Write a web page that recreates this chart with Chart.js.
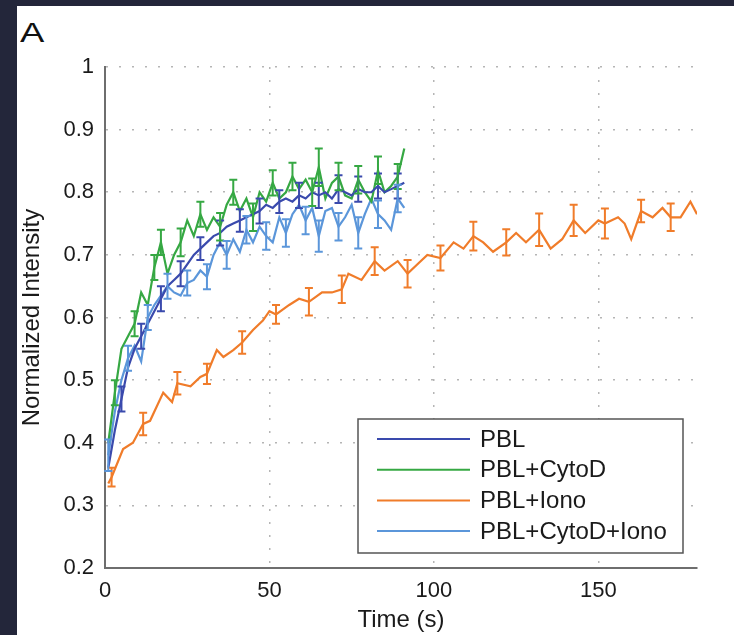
<!DOCTYPE html>
<html>
<head>
<meta charset="utf-8">
<script src="https://cdn.jsdelivr.net/npm/chart.js@4/dist/chart.umd.min.js"></script>
<style>
  html, body { margin: 0; padding: 0; }
  body { width: 734px; height: 635px; background: #23263a; position: relative; overflow: hidden; }
  .panel { position: absolute; left: 17px; top: 6px; width: 717px; height: 629px; background: #fff; }
  .panel-label { position: absolute; left: 3px; top: 13px; font: 28px/28px "Liberation Sans", Arial, sans-serif; color: #111; transform: scaleX(1.3); transform-origin: left top; }
  canvas { position: absolute; left: 0; top: 0; }
</style>
</head>
<body>
<div class="panel">
  <div class="panel-label">A</div>
  <canvas id="chart" width="717" height="629"></canvas>
</div>
<script>
// time axis (s) shared by the three fast series
var fastTime = [1, 3, 5, 7, 9, 11, 13, 15, 17, 19, 21, 23, 25, 27, 29, 31, 33, 35, 37, 39, 41, 43, 45,
  47, 49, 51, 53, 55, 57, 59, 61, 63, 65, 67, 69, 71, 73, 75, 77, 79, 81, 83, 85, 87, 89, 91];

var pblValues = [0.36, 0.42, 0.47, 0.52, 0.55, 0.57, 0.59, 0.61, 0.63, 0.65, 0.66, 0.67, 0.685, 0.70,
  0.71, 0.72, 0.73, 0.735, 0.745, 0.75, 0.755, 0.76, 0.765, 0.77, 0.78, 0.775, 0.785, 0.79, 0.785,
  0.795, 0.79, 0.80, 0.795, 0.80, 0.79, 0.805, 0.80, 0.795, 0.805, 0.80, 0.80, 0.81, 0.80, 0.805,
  0.81, 0.815];
var pblErr = [null, null, 0.02, null, null, 0.02, null, null, 0.02, null, null, 0.02, null, null,
  0.018, null, null, 0.02, null, null, 0.018, null, null, 0.02, null, null, 0.018, null, null, 0.02,
  null, null, 0.02, null, null, 0.022, null, null, 0.02, null, null, 0.02, null, null, 0.02, null];

var cytoDValues = [0.40, 0.48, 0.55, 0.57, 0.59, 0.64, 0.62, 0.68, 0.72, 0.67, 0.70, 0.72, 0.755,
  0.73, 0.765, 0.74, 0.76, 0.745, 0.78, 0.80, 0.77, 0.79, 0.76, 0.80, 0.785, 0.815, 0.79, 0.80,
  0.825, 0.805, 0.82, 0.80, 0.84, 0.79, 0.815, 0.825, 0.795, 0.79, 0.82, 0.80, 0.785, 0.835, 0.80,
  0.81, 0.825, 0.87];
var cytoDErr = [null, 0.02, null, null, 0.02, null, null, 0.02, 0.02, null, null, 0.022, null, null,
  0.02, null, null, 0.022, null, 0.02, null, null, 0.022, null, null, 0.02, null, null, 0.022, null,
  null, 0.022, 0.03, null, null, 0.022, null, null, 0.022, null, null, 0.022, null, null, 0.02, null];

var ionoTime = [1, 2, 5.5, 8.5, 11.6, 13.7, 17.7, 20.4, 22, 26, 29, 31, 34, 36, 39, 41.7, 45, 48, 50,
  52, 56, 59, 62, 66, 69, 72, 74, 78, 82, 85, 89, 92, 95, 98, 102, 106, 109, 112, 115, 118, 122,
  125, 128, 132, 135.5, 139, 142.5, 146, 150, 152, 156, 158, 160, 163, 166.5, 169.5, 172, 175,
  178, 180];
var ionoValues = [0.335, 0.345, 0.39, 0.40, 0.43, 0.435, 0.48, 0.465, 0.495, 0.49, 0.505, 0.51,
  0.548, 0.537, 0.548, 0.56, 0.58, 0.595, 0.61, 0.605, 0.62, 0.63, 0.625, 0.64, 0.64, 0.645, 0.67,
  0.66, 0.69, 0.675, 0.69, 0.67, 0.685, 0.70, 0.695, 0.72, 0.71, 0.73, 0.72, 0.705, 0.72, 0.735,
  0.72, 0.74, 0.71, 0.725, 0.755, 0.735, 0.755, 0.75, 0.76, 0.75, 0.725, 0.77, 0.76, 0.775, 0.76,
  0.76, 0.785, 0.765];
var ionoErr = [null, 0.015, null, null, 0.018, null, null, null, 0.018, null, null, 0.016, null,
  null, null, 0.018, null, null, null, 0.015, null, null, 0.022, null, null, 0.022, null, null,
  0.022, null, null, 0.022, null, null, 0.02, null, null, 0.023, null, null, 0.021, null, null,
  0.026, null, null, 0.025, null, null, 0.024, null, null, null, 0.018, null, null, 0.022, null,
  null, null];

var cytoDIonoValues = [0.38, 0.45, 0.50, 0.535, 0.555, 0.53, 0.60, 0.62, 0.635, 0.65, 0.64, 0.635,
  0.655, 0.66, 0.675, 0.665, 0.70, 0.72, 0.70, 0.725, 0.705, 0.74, 0.72, 0.745, 0.73, 0.72, 0.76,
  0.735, 0.765, 0.78, 0.755, 0.775, 0.73, 0.77, 0.775, 0.745, 0.76, 0.78, 0.735, 0.765, 0.79,
  0.765, 0.755, 0.74, 0.79, 0.775];
var cytoDIonoErr = [0.025, null, null, 0.02, null, null, 0.02, null, null, 0.02, null, null, 0.02,
  null, null, 0.02, null, null, 0.022, null, null, 0.022, null, null, 0.022, null, null, 0.022,
  null, null, 0.022, null, 0.025, null, null, 0.022, null, null, 0.025, null, null, 0.022, null,
  null, 0.022, null];

var seriesLabels = ["PBL", "PBL+CytoD", "PBL+Iono", "PBL+CytoD+Iono"];
var seriesColors = ["#3a4aad", "#36a843", "#f07c2a", "#5b96da"];
var xTicks = [0, 50, 100, 150];
var yTicks = [0.2, 0.3, 0.4, 0.5, 0.6, 0.7, 0.8, 0.9, 1];

function points(times, values, errs) {
  return times.map(function (t, i) { return { x: t, y: values[i], err: errs[i] }; });
}

var FONT = "'Liberation Sans', Arial, Helvetica, sans-serif";

var errorBars = {
  id: "errorBars",
  afterDatasetsDraw: function (chart) {
    var ctx = chart.ctx;
    var xs = chart.scales.x, ys = chart.scales.y;
    ctx.save();
    chart.data.datasets.forEach(function (ds) {
      ctx.strokeStyle = ds.borderColor;
      ctx.lineWidth = 2;
      ds.data.forEach(function (p) {
        if (p.err == null) return;
        var px = xs.getPixelForValue(p.x);
        var top = ys.getPixelForValue(p.y + p.err);
        var bot = ys.getPixelForValue(p.y - p.err);
        ctx.beginPath();
        ctx.moveTo(px, top); ctx.lineTo(px, bot);
        ctx.moveTo(px - 4, top); ctx.lineTo(px + 4, top);
        ctx.moveTo(px - 4, bot); ctx.lineTo(px + 4, bot);
        ctx.stroke();
      });
    });
    ctx.restore();
  }
};

// matlab-style boxed legend in the lower right of the axes
var boxLegend = {
  id: "boxLegend",
  afterDraw: function (chart) {
    var ctx = chart.ctx, ca = chart.chartArea;
    var w = 325, h = 134;
    var x0 = ca.right - 14 - w, y0 = ca.bottom - 15 - h;
    ctx.save();
    ctx.fillStyle = "#fff";
    ctx.fillRect(x0, y0, w, h);
    ctx.strokeStyle = "#555";
    ctx.lineWidth = 1.5;
    ctx.strokeRect(x0, y0, w, h);
    ctx.font = "24px " + FONT;
    ctx.textBaseline = "middle";
    ctx.fillStyle = "#1a1a1a";
    chart.data.datasets.forEach(function (ds, i) {
      var y = y0 + 20 + i * 30.7;
      ctx.strokeStyle = ds.borderColor;
      ctx.lineWidth = 2;
      ctx.beginPath();
      ctx.moveTo(x0 + 19, y); ctx.lineTo(x0 + 112, y);
      ctx.stroke();
      ctx.fillText(ds.label, x0 + 122, y + 1);
    });
    ctx.restore();
  }
};

new Chart(document.getElementById("chart").getContext("2d"), {
  type: "line",
  data: {
    datasets: [
      { label: seriesLabels[0], data: points(fastTime, pblValues, pblErr) },
      { label: seriesLabels[1], data: points(fastTime, cytoDValues, cytoDErr) },
      { label: seriesLabels[2], data: points(ionoTime, ionoValues, ionoErr) },
      { label: seriesLabels[3], data: points(fastTime, cytoDIonoValues, cytoDIonoErr) },
    ].map(function (ds, i) {
      ds.borderColor = seriesColors[i];
      ds.backgroundColor = seriesColors[i];
      ds.borderWidth = 2.2;
      ds.pointRadius = 0;
      ds.tension = 0;
      ds.fill = false;
      return ds;
    }),
  },
  options: {
    responsive: false,
    devicePixelRatio: 1,
    animation: false,
    layout: { padding: { top: 61, right: 37, left: 0, bottom: 0 } },
    plugins: { legend: { display: false }, tooltip: { enabled: false } },
    scales: {
      x: {
        type: "linear",
        min: 0,
        max: 180,
        afterBuildTicks: function (scale) { scale.ticks = xTicks.map(function (v) { return { value: v }; }); },
        afterFit: function (scale) { scale.height = 67; },
        grid: { color: "#b5b5b5", lineWidth: 1.5, drawTicks: false },
        border: { color: "#6e6e6e", width: 2, dash: [2, 11] },
        ticks: { padding: 10, color: "#1a1a1a", font: { family: FONT, size: 22 }, maxRotation: 0 },
        title: { display: true, text: "Time (s)", color: "#1a1a1a", padding: { top: 0, bottom: 0 }, font: { family: FONT, size: 24 } },
      },
      y: {
        min: 0.2,
        max: 1,
        afterBuildTicks: function (scale) { scale.ticks = yTicks.map(function (v) { return { value: v }; }); },
        afterFit: function (scale) { scale.width = 88; },
        grid: { color: "#b5b5b5", lineWidth: 1.5, drawTicks: false },
        border: { color: "#6e6e6e", width: 2, dash: [2, 11] },
        ticks: {
          padding: 11, color: "#1a1a1a", font: { family: FONT, size: 22 },
          callback: function (v) { return v === 1 ? "1" : v.toFixed(1); },
        },
        title: { display: true, text: "Normalized Intensity", color: "#1a1a1a", padding: { top: 1, bottom: 0 }, font: { family: FONT, size: 24 } },
      },
    },
  },
  plugins: [errorBars, boxLegend],
});
</script>
</body>
</html>
